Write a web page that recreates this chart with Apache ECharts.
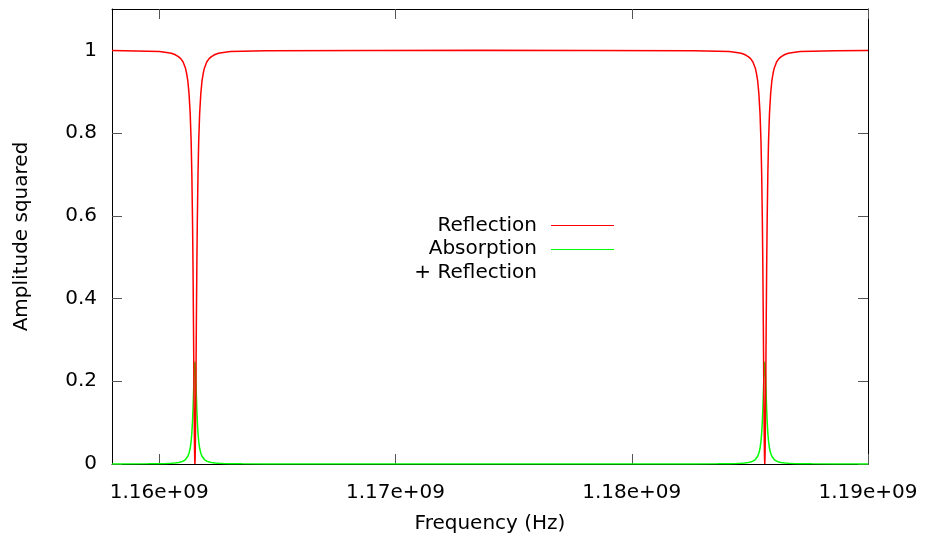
<!DOCTYPE html>
<html>
<head>
<meta charset="utf-8">
<script src="https://cdn.jsdelivr.net/npm/echarts@6/dist/echarts.min.js"></script>
<style>
html,body{margin:0;padding:0;background:#fff;}
#chart{width:925px;height:539px;}
</style>
</head>
<body>
<div id="chart"></div>
<script>
// ---- data ----
const xRange = [1.158e9, 1.19e9];
const xTicks = [1.16e9, 1.17e9, 1.18e9, 1.19e9];
const yTicks = [0, 0.2, 0.4, 0.6, 0.8, 1];
const resonanceHz = [1.16151e9, 1.18563e9];
// sample offsets around each resonance (kHz)
const dipOffsetsKHz = [-3000,-2000,-1500,-1200,-1000,-850,-700,-600,-500,-400,-350,-300,-250,-200,-160,-130,-100,-80,-60,-40,-20,-10,0,10,20,40,60,80,100,130,160,200,250,300,350,400,500,600,700,850,1000,1200,1500,2000,3000];
const reflectionDip = [0.999,0.998,0.997,0.995,0.993,0.990,0.985,0.980,0.972,0.957,0.944,0.926,0.896,0.847,0.780,0.700,0.580,0.470,0.332,0.181,0.052,0.014,0,0.014,0.052,0.181,0.332,0.470,0.580,0.700,0.780,0.847,0.896,0.926,0.944,0.957,0.972,0.980,0.985,0.990,0.993,0.995,0.997,0.998,0.999];
const absorptionDip = [0.0002,0.0005,0.0008,0.0013,0.0018,0.0025,0.0036,0.0049,0.007,0.0108,0.0139,0.0186,0.026,0.038,0.055,0.075,0.105,0.1325,0.167,0.205,0.237,0.247,0.25,0.247,0.237,0.205,0.167,0.1325,0.105,0.075,0.055,0.038,0.026,0.0186,0.0139,0.0108,0.007,0.0049,0.0036,0.0025,0.0018,0.0013,0.0008,0.0005,0.0002];
// values away from the resonances: [frequency, reflection, absorption]
const farPoints = [[1.158e9, 0.9994, 0.0001], [1.1736e9, 1.0, 0.00002], [1.19e9, 0.9996, 0.0001]];

function buildSeries(dipVals, farIdx) {
  const out = [];
  out.push([farPoints[0][0], farPoints[0][farIdx]]);
  dipOffsetsKHz.forEach((o, i) => out.push([resonanceHz[0] + o * 1e3, dipVals[i]]));
  out.push([farPoints[1][0], farPoints[1][farIdx]]);
  dipOffsetsKHz.forEach((o, i) => out.push([resonanceHz[1] + o * 1e3, dipVals[i]]));
  out.push([farPoints[2][0], farPoints[2][farIdx]]);
  return out;
}
const reflectionData = buildSeries(reflectionDip, 1);
const absorptionData = buildSeries(absorptionDip, 2);

const FONT = 'DejaVu Sans';
const chart = echarts.init(document.getElementById('chart'), null, {renderer: 'canvas'});
const axisLine = {show: true, onZero: false, lineStyle: {color: '#000', width: 1}};
const tickStyle = {show: true, inside: true, length: 10, lineStyle: {color: '#555', width: 1}};

chart.setOption({
  animation: false,
  backgroundColor: '#fff',
  grid: {left: 112, right: 57, top: 9, bottom: 74, containLabel: false},
  xAxis: [{
    type: 'value', min: xRange[0], max: xRange[1], position: 'bottom',
    axisLine: axisLine,
    axisTick: Object.assign({customValues: xTicks}, tickStyle),
    axisLabel: {customValues: xTicks, margin: 19, color: '#000', fontFamily: FONT, fontSize: 20,
      formatter: v => (v / 1e9).toFixed(2) + 'e+09'},
    splitLine: {show: false},
    name: 'Frequency (Hz)', nameLocation: 'middle', nameGap: 50,
    nameTextStyle: {color: '#000', fontFamily: FONT, fontSize: 20}
  }, {
    type: 'value', min: xRange[0], max: xRange[1], position: 'top',
    axisLine: axisLine,
    axisTick: Object.assign({customValues: xTicks}, tickStyle),
    axisLabel: {show: false}, splitLine: {show: false}
  }],
  yAxis: [{
    type: 'value', min: 0, max: 1.1, position: 'left',
    axisLine: axisLine,
    axisTick: Object.assign({customValues: yTicks}, tickStyle),
    axisLabel: {customValues: yTicks, margin: 15, color: '#000', fontFamily: FONT, fontSize: 20,
      formatter: v => String(Math.round(v * 10) / 10)},
    splitLine: {show: false},
    name: 'Amplitude squared', nameLocation: 'middle', nameGap: 80, nameRotate: 90,
    nameTextStyle: {color: '#000', fontFamily: FONT, fontSize: 20}
  }, {
    type: 'value', min: 0, max: 1.1, position: 'right',
    axisLine: axisLine,
    axisTick: Object.assign({customValues: yTicks}, tickStyle),
    axisLabel: {show: false}, splitLine: {show: false}
  }],
  series: [{
    name: 'Absorption + Reflection', type: 'line', data: absorptionData,
    showSymbol: false, symbol: 'none', lineStyle: {color: '#00ff00', width: 1.5}, z: 2
  }, {
    name: 'Reflection', type: 'line', data: reflectionData,
    showSymbol: false, symbol: 'none', lineStyle: {color: '#ff0000', width: 1.5}, z: 3
  }],
  graphic: [
    {type: 'text', style: {text: 'Reflection', x: 537, y: 226, align: 'right', verticalAlign: 'middle', font: '20px "DejaVu Sans"', fill: '#000'}},
    {type: 'text', style: {text: 'Absorption', x: 537, y: 249, align: 'right', verticalAlign: 'middle', font: '20px "DejaVu Sans"', fill: '#000'}},
    {type: 'text', style: {text: '+ Reflection', x: 537, y: 273, align: 'right', verticalAlign: 'middle', font: '20px "DejaVu Sans"', fill: '#000'}},
    {type: 'line', shape: {x1: 551, y1: 225.5, x2: 614, y2: 225.5}, style: {stroke: '#ff0000', lineWidth: 1.2}},
    {type: 'line', shape: {x1: 551, y1: 249.5, x2: 614, y2: 249.5}, style: {stroke: '#00ff00', lineWidth: 1.2}}
  ]
});
</script>
</body>
</html>
